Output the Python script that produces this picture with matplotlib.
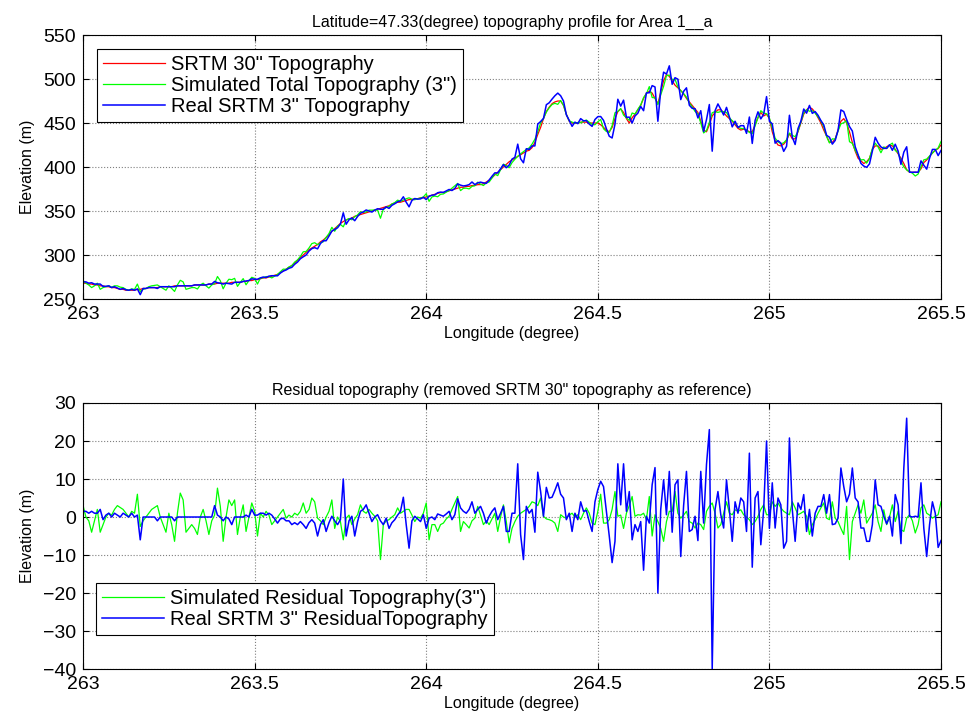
import numpy as np
import matplotlib.pyplot as plt

lon_start, lon_end = 263.0, 265.5

# SRTM 30" profile, one value every 30" of longitude
srtm30 = [
    268, 268, 267, 267, 266, 266, 265, 265, 264, 264, 263, 263,
    262, 261, 261, 260, 260, 260, 260, 261, 261, 262, 262, 263,
    263, 263, 263, 264, 264, 264, 264, 264, 265, 265, 265, 265,
    265, 265, 265, 266, 266, 266, 266, 266, 267, 267, 267, 268,
    268, 268, 268, 268, 269, 269, 269, 269, 270, 270, 271, 271,
    272, 272, 273, 274, 274, 275, 276, 277, 278, 280, 282, 284,
    286, 288, 291, 294, 297, 300, 303, 306, 308, 310, 312, 315,
    317, 320, 323, 327, 330, 333, 336, 338, 340, 341, 342, 344,
    345, 346, 347, 348, 349, 350, 351, 352, 353, 354, 355, 356,
    358, 359, 360, 360, 361, 362, 363, 363, 364, 364, 365, 365,
    366, 367, 368, 369, 370, 371, 371, 372, 373, 374, 375, 376,
    377, 377, 378, 378, 379, 379, 380, 380, 381, 383, 385, 388,
    391, 394, 397, 400, 403, 406, 408, 410, 412, 414, 416, 418,
    419, 422, 428, 437, 445, 455, 463, 468, 472, 474, 475, 475,
    470, 460, 452, 450, 450, 450, 451, 451, 451, 450, 450, 450,
    450, 448, 445, 442, 440, 445, 455, 463, 466, 462, 455, 450,
    456, 460, 465, 470, 478, 484, 486, 484, 478, 472, 485, 498,
    505, 503, 498, 493, 490, 487, 483, 478, 474, 470, 466, 462,
    452, 442, 440, 448, 458, 462, 465, 465, 462, 458, 455, 452,
    448, 444, 442, 443, 442, 440, 440, 448, 456, 462, 458, 460,
    455, 440, 430, 425, 424, 426, 430, 438, 432, 432, 440, 450,
    460, 465, 468, 466, 462, 456, 450, 442, 435, 428, 428, 432,
    442, 452, 455, 450, 440, 428, 418, 410, 407, 404, 406, 410,
    420, 424, 424, 420, 421, 423, 425, 424, 420, 415, 410, 404,
    397, 394, 394, 394, 394, 398, 405, 408, 412, 416, 419, 421,
    425,
]

# simulated residual topography (3")
res_sim = [
    3, 0, -1, -4, -1, 2, -4, -2, 0, 1,
    0.5, 2, 3, 2.5, 2, 1, 0, 1.5, 1, 6,
    -2.5, -1, 0, 1, 2, 2.5, 3, 0, -2, -4,
    1, -2, -6.4, 1, 6.3, 4.5, -4, -3, -2, -3,
    -4.6, 0, 2, -1, -4.6, -1, 0.5, 7.6, 2.8, -6.4,
    0, 4.5, 3, 4.5, -4.6, 0, 3.2, -3.8, 0, 3.7,
    1.5, -5, 1, 0, 1.5, 0.5, -2, -1, 0, 1,
    2, -0.3, 0.5, 0, 1, 0.5, 1.5, 3.7, 1, 2,
    5, 4, -0.3, -1, -2, 0, 1.5, 4.5, -3, 0,
    -1.2, -6, -0.3, 0.5, -2, -0.5, 0.6, 3.2, 1.5, 1,
    2, 1, 0.2, -1, -11.2, -2, -1, -0.7, 0, 0.6,
    2.4, 1, 1.5, 2, 2, 0.5, -1.2, 0, -0.3, 1,
    3.7, -6, -2, -2, -3.8, -2, -1.6, -0.5, 0.2, 2,
    3.7, 5.4, -3.8, -1.2, -2, -2.9, -1, -0.3, 2.8, 0.5,
    -2, -1, -2, -0.5, 1, -3.8, 0, 3.2, -1.2, -6.8,
    -3, -1.2, 0.2, 1, 1.5, 2, 2.8, 4, 3.7, 3,
    5, 0.2, -0.5, -0.7, -1, -1.6, -3.8, 0.6, 0, -0.3,
    0.5, 1, 0, 0.6, -0.7, 1, 2.4, 1, -1.6, -2,
    1.5, 6, -1.6, -1.6, -0.7, 2, 6.7, 0.2, 0.5, -3,
    1, 3, 5.4, 0.2, 0.6, 0.5, 1, -0.7, 5.4, -5,
    0.6, -1.2, -3, -6.4, -1.2, 1.5, 1.5, 6.7, 1, -0.3,
    0.5, 1.5, -1.2, -1.6, -2.9, -1.6, -2, -3.3, 1.5, 2.8,
    3.7, 1, -2.9, -2, 1, 4, 1, 0.6, 1.9, 1.5,
    1.9, 0.6, 0, -0.7, -2, -1.2, 0.2, 2, 3.2, 0.6,
    0.6, 4, 2.8, 3.7, 2.4, 1.5, 1, 0.6, 4, 2.4,
    0.6, 1, 1.5, 0.2, -4.6, -2, -0.7, 1, 2.4, 3.7,
    -0.3, -0.7, 4, -0.3, -1.2, -3, -4.6, 2.8, -11.2, -1.2,
    1, 3.2, 1, 4.5, -1.6, -0.3, 1, 3.2, -1.2, -3.8,
    1.9, -2, 0, 3.2, -1.2, 1.5, -3.3, -3.8, -0.3, 0.6,
    -1, -4.2, -2, 2.4, 3.2, 1, 0.5, -0.3, 0.2, 0.6,
    4,
]

# real SRTM 3" residual topography
res_real = [
    1.5, 1.5, 1, 1.5, 1, 1, 2, -0.7, 0.5, 1,
    0, 1, 0.5, 0, 1, 0.5, 0, 1, 0, 0.5,
    -6, 0, 0, 0, 0, 0, -1, 0, 0, 0,
    0, 0, -1, 0, 0, 0, 0, 0, 0, 0,
    0, 0, 0, 0, 0, 0, 3, 0.5, 0, -1,
    0, -0.5, -2, 0, 0, 0, 0, 0.5, 0, 2,
    0.5, 0.5, 1, 1, 0.5, 1, 0.5, -0.5, -1.6, -0.5,
    -0.3, -1, -1, -2, -1.5, -2, -1.2, -2, -3, -1.5,
    -0.7, -1.6, -5, -2, -0.7, -3.8, -1.5, 0.2, -1, -2,
    -0.7, 10, -5, -1, 0.2, -5, -1.2, 1.5, 2, 3.2,
    1, -1.2, 0, 0.6, -1, -2, -0.3, -3, -1.5, -0.7,
    0.5, 1.5, 5.2, -2, -8.2, -1, 0.2, -0.5, -1.2, 0.6,
    -3, -0.3, 0, -0.7, 0.8, 0.5, 0.2, 0.8, 1.5, -0.7,
    0.6, 4.8, 2.4, 1.5, 1, 2, 4, 1, 2, 2.8,
    1, -1.6, 0.2, 1.5, 2.4, -0.7, 1, 2.8, -3.8, -3.8,
    1, 1, 14, -4.6, -11.2, 2.8, 1, 2, -4, 11.8,
    6.7, 0.2, 7.8, 5, 5.2, 7, 9, 6, 5, -0.7,
    1, -3.8, 1, -0.7, 4, 1.5, 1.7, -1.2, -3.8, 4,
    7.2, 9.4, 8, 1.5, -5, -12, -6.4, 14, 3.2, 14,
    1.5, 6.7, -6, -2, -3.8, -1.2, -14, 0.2, -1.6, 8.5,
    13, -20, 2, 9.8, 0.6, 12, -4, 8.5, 9.8, -10.4,
    3, 12, -3.8, -3.3, 0.2, -6.2, 12, -1.6, 13.8, 23,
    -40, 2, 6.7, 0.6, -2.9, 9.8, 2, -6.4, 4, 1,
    5, 4, -3.8, 16.8, -13.2, 5, 6.7, -7.3, 2, 20,
    -3, 9, -2.9, 5, 3.2, -8.2, -6.4, 20.8, 2, -6.4,
    3.7, 2, 5.9, -3.8, 2, -5, 1, 2.8, 2.8, 5.9,
    1, 5.9, -2, -1.8, -0.3, 12.9, 8, 4, 6, 12.9,
    5, 4, -2.9, -2.9, -6.4, -6.4, -2, 9.8, 3.2, 2.8,
    0.2, -1.8, 0.2, -5, 5.9, 3.2, -7, 12.9, 26, 0.2,
    0, 0.2, 0, 9, -3, -10.4, -2, 4, 1, -8,
    -6.2,
]

assert len(srtm30) == len(res_sim) == len(res_real)

lon = np.linspace(lon_start, lon_end, len(srtm30))
topo30 = np.array(srtm30, dtype=float)
sim_total = topo30 + np.array(res_sim)
real3 = topo30 + np.array(res_real)

xticks = [263, 263.5, 264, 264.5, 265, 265.5]
xticklabels = ['263', '263.5', '264', '264.5', '265', '265.5']

plt.rcParams['font.family'] = ['Liberation Sans', 'DejaVu Sans']


def matlab_look(ax, ylim, yticks):
    ax.set_xlim(lon_start, lon_end)
    ax.set_ylim(*ylim)
    ax.set_xticks(xticks)
    ax.set_xticklabels(xticklabels)
    ax.set_yticks(yticks)
    ax.tick_params(direction='in', top=True, right=True, length=4, width=0.8,
                   labelsize=14)
    ax.tick_params(axis='x', pad=5)
    ax.tick_params(axis='y', pad=5)
    ax.grid(True, linestyle=':', color='#7f7f7f', linewidth=0.8)
    ax.set_axisbelow(True)
    for s in ax.spines.values():
        s.set_linewidth(0.8)
        s.set_color('black')


def matlab_legend(ax, loc, anchor):
    leg = ax.legend(loc=loc, bbox_to_anchor=anchor, borderaxespad=0,
                    fontsize=14.5, handlelength=3.1, handletextpad=0.3,
                    labelspacing=0.1, borderpad=0.3, fancybox=False,
                    framealpha=1, edgecolor='black')
    leg.get_frame().set_linewidth(0.8)
    return leg


fig = plt.figure(figsize=(9.69, 7.19), dpi=100)

# top: full profiles
ax1 = fig.add_axes([0.0857, 0.5841, 0.8854, 0.3672])
ax1.plot(lon, topo30, color='#ff0000', lw=0.9, label='SRTM 30" Topography')
ax1.plot(lon, sim_total, color='#00ff00', lw=0.9, label='Simulated Total Topography (3")')
ax1.plot(lon, real3, color='#0000ff', lw=1.1, label='Real SRTM 3" Topography')
matlab_look(ax1, (250, 550), np.arange(250, 551, 50))
ax1.set_title('Latitude=47.33(degree) topography profile for Area 1__a',
              fontsize=11.5, pad=6)
ax1.set_xlabel('Longitude (degree)', fontsize=11.5, labelpad=2)
ax1.set_ylabel('Elevation (m)', fontsize=11.5, labelpad=6)
matlab_legend(ax1, 'upper left', (0.016, 0.947))

# bottom: residuals
ax2 = fig.add_axes([0.0857, 0.0695, 0.8854, 0.370])
ax2.plot(lon, res_sim, color='#00ff00', lw=0.9, label='Simulated Residual Topography(3")')
ax2.plot(lon, res_real, color='#0000ff', lw=1.1, label='Real SRTM 3" ResidualTopography')
matlab_look(ax2, (-40, 30), np.arange(-40, 31, 10))
ax2.set_title('Residual topography (removed SRTM 30" topography as reference)',
              fontsize=11.5, pad=6)
ax2.set_xlabel('Longitude (degree)', fontsize=11.5, labelpad=2)
ax2.set_ylabel('Elevation (m)', fontsize=11.5, labelpad=6)
matlab_legend(ax2, 'lower left', (0.015, 0.128))

fig.savefig('out.png', dpi=100)
